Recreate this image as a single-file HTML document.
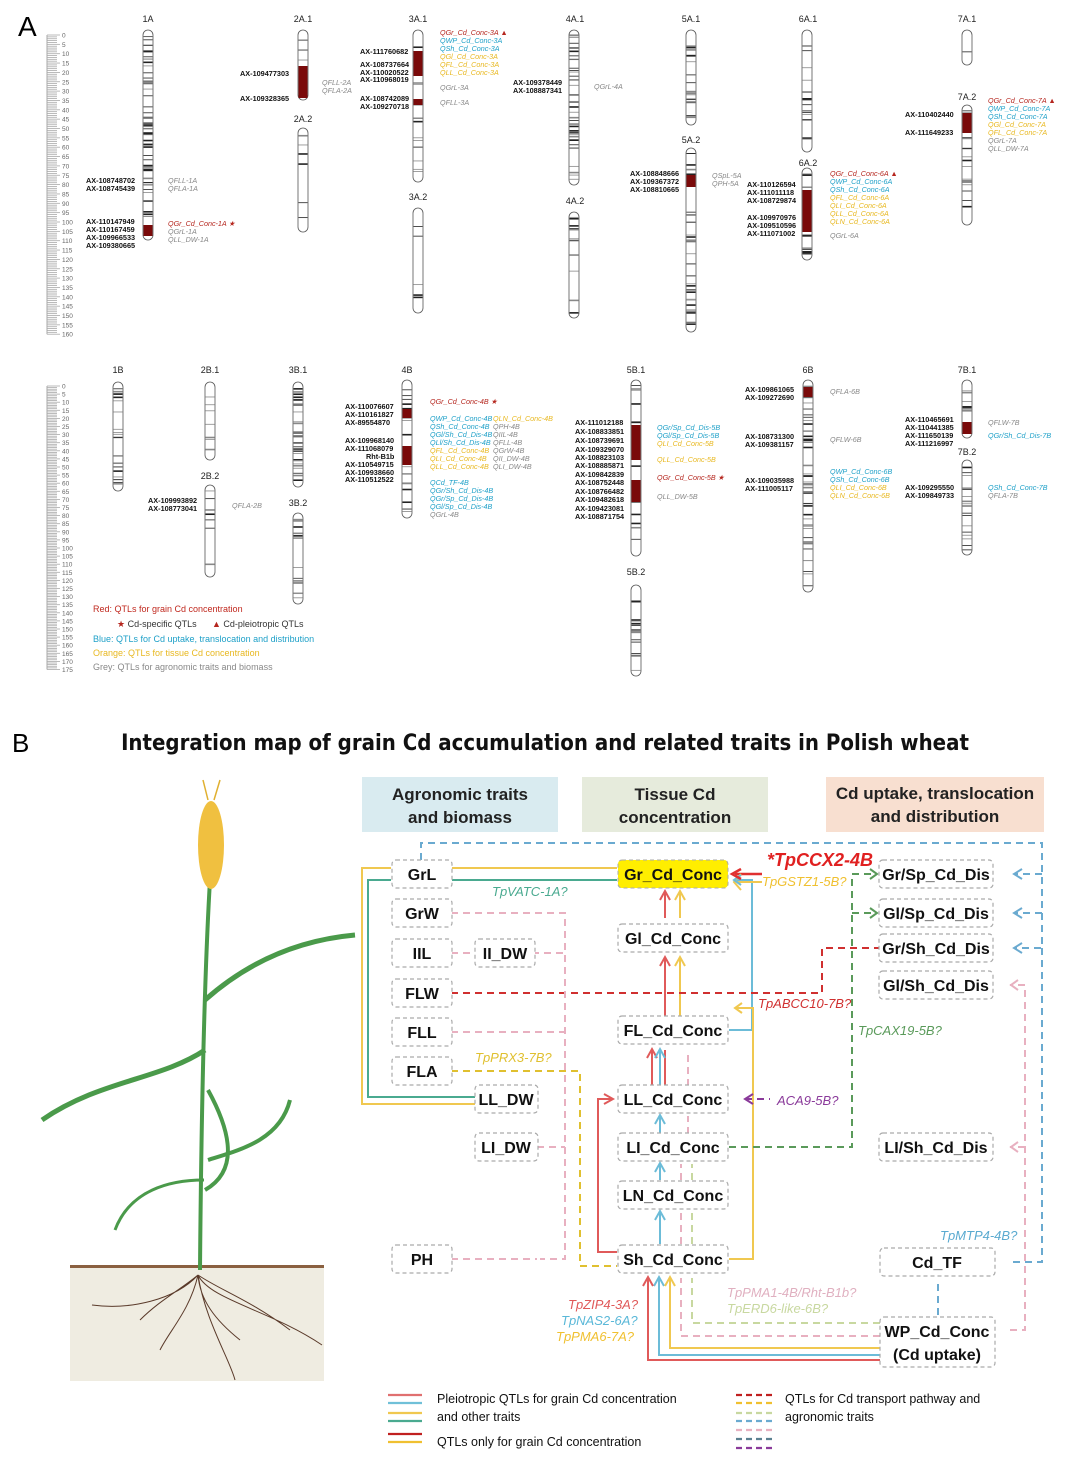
<!DOCTYPE html>
<html><head><meta charset="utf-8">
<style>
html,body{margin:0;padding:0;background:#fff;}
svg{display:block;font-family:"Liberation Sans",sans-serif;}
.m{font-size:7.3px;font-weight:bold;fill:#111;}
.q{font-size:7.2px;font-style:italic;}
.cn{font-size:9px;fill:#222;text-anchor:middle;}
.nd{fill:#fff;stroke:#aaa;stroke-dasharray:4 3;stroke-width:1.2;}
.nt{font-size:16px;font-weight:bold;fill:#111;text-anchor:middle;font-family:"Liberation Sans",sans-serif;}
.g{font-size:13px;font-style:italic;font-family:"Liberation Sans",sans-serif;}
.hd{font-size:17px;font-weight:bold;fill:#222;text-anchor:middle;font-family:"Liberation Sans",sans-serif;}
.lg{font-size:12.5px;fill:#111;font-family:"Liberation Sans",sans-serif;}
</style></head><body>
<svg id="s" width="1080" height="1463" viewBox="0 0 1080 1463" xmlns="http://www.w3.org/2000/svg">
<text x="18" y="36" font-size="28" fill="#000">A</text>
<text x="12" y="752" font-size="26" fill="#000">B</text>
<g id="rul"></g>
<g id="chr"></g>
<g id="lab">
<text class="cn" x="148" y="22">1A</text><text class="cn" x="303" y="22">2A.1</text><text class="cn" x="303" y="122">2A.2</text>
<text class="cn" x="418" y="22">3A.1</text><text class="cn" x="418" y="200">3A.2</text>
<text class="cn" x="575" y="22">4A.1</text><text class="cn" x="575" y="204">4A.2</text>
<text class="cn" x="691" y="22">5A.1</text><text class="cn" x="691" y="143">5A.2</text>
<text class="cn" x="808" y="22">6A.1</text><text class="cn" x="808" y="166">6A.2</text>
<text class="cn" x="967" y="22">7A.1</text><text class="cn" x="967" y="100">7A.2</text>
<text class="cn" x="118" y="373">1B</text><text class="cn" x="210" y="373">2B.1</text><text class="cn" x="210" y="479">2B.2</text>
<text class="cn" x="298" y="373">3B.1</text><text class="cn" x="298" y="506">3B.2</text><text class="cn" x="407" y="373">4B</text>
<text class="cn" x="636" y="373">5B.1</text><text class="cn" x="636" y="575">5B.2</text><text class="cn" x="808" y="373">6B</text>
<text class="cn" x="967" y="373">7B.1</text><text class="cn" x="967" y="455">7B.2</text>
<g class="m">
<text x="86" y="183">AX-108748702</text><text x="86" y="191">AX-108745439</text>
<text x="86" y="224">AX-110147949</text><text x="86" y="232">AX-110167459</text><text x="86" y="240">AX-109966533</text><text x="86" y="248">AX-109380665</text>
<text x="240" y="76">AX-109477303</text><text x="240" y="101">AX-109328365</text>
<text x="360" y="54">AX-111760682</text><text x="360" y="67">AX-108737664</text><text x="360" y="75">AX-110020522</text><text x="360" y="82">AX-110968019</text>
<text x="360" y="101">AX-108742089</text><text x="360" y="109">AX-109270718</text>
<text x="513" y="85">AX-109378449</text><text x="513" y="93">AX-108887341</text>
<text x="630" y="176">AX-108848666</text><text x="630" y="184">AX-109367372</text><text x="630" y="192">AX-108810665</text>
<text x="747" y="187">AX-110126594</text><text x="747" y="195">AX-111011118</text><text x="747" y="203">AX-108729874</text>
<text x="747" y="220">AX-109970976</text><text x="747" y="228">AX-109510596</text><text x="747" y="236">AX-111071002</text>
<text x="905" y="117">AX-110402440</text><text x="905" y="135">AX-111649233</text>
<text x="148" y="503">AX-109993892</text><text x="148" y="511">AX-108773041</text>
<text x="345" y="409">AX-110076607</text><text x="345" y="417">AX-110161827</text><text x="345" y="425">AX-89554870</text>
<text x="345" y="443">AX-109968140</text><text x="345" y="451">AX-111068079</text><text x="366" y="459">Rht-B1b</text><text x="345" y="467">AX-110549715</text><text x="345" y="475">AX-109938660</text><text x="345" y="482">AX-110512522</text>
<text x="575" y="425">AX-111012188</text><text x="575" y="434">AX-108833851</text><text x="575" y="443">AX-108739691</text><text x="575" y="452">AX-109329070</text><text x="575" y="460">AX-108823103</text><text x="575" y="468">AX-108885871</text><text x="575" y="477">AX-109842839</text><text x="575" y="485">AX-108752448</text><text x="575" y="494">AX-108766482</text><text x="575" y="502">AX-109482618</text><text x="575" y="511">AX-109423081</text><text x="575" y="519">AX-108871754</text>
<text x="745" y="392">AX-109861065</text><text x="745" y="400">AX-109272690</text>
<text x="745" y="439">AX-108731300</text><text x="745" y="447">AX-109381157</text>
<text x="745" y="483">AX-109035988</text><text x="745" y="491">AX-111005117</text>
<text x="905" y="422">AX-110465691</text><text x="905" y="430">AX-110441385</text><text x="905" y="438">AX-111650139</text><text x="905" y="446">AX-111216997</text>
<text x="905" y="490">AX-109295550</text><text x="905" y="498">AX-109849733</text>
</g>
<g class="q">
<text x="168" y="183" fill="#888">QFLL-1A</text><text x="168" y="191" fill="#888">QFLA-1A</text>
<text x="168" y="226" fill="#b5261e">QGr_Cd_Conc-1A ★</text><text x="168" y="234" fill="#888">QGrL-1A</text><text x="168" y="242" fill="#888">QLL_DW-1A</text>
<text x="322" y="85" fill="#888">QFLL-2A</text><text x="322" y="93" fill="#888">QFLA-2A</text>
<text x="440" y="35" fill="#b5261e">QGr_Cd_Conc-3A ▲</text><text x="440" y="43" fill="#1ea0c8">QWP_Cd_Conc-3A</text><text x="440" y="51" fill="#1ea0c8">QSh_Cd_Conc-3A</text><text x="440" y="59" fill="#e8b820">QGl_Cd_Conc-3A</text><text x="440" y="67" fill="#e8b820">QFL_Cd_Conc-3A</text><text x="440" y="75" fill="#e8b820">QLL_Cd_Conc-3A</text>
<text x="440" y="90" fill="#888">QGrL-3A</text><text x="440" y="105" fill="#888">QFLL-3A</text>
<text x="594" y="89" fill="#888">QGrL-4A</text>
<text x="712" y="178" fill="#888">QSpL-5A</text><text x="712" y="186" fill="#888">QPH-5A</text>
<text x="830" y="176" fill="#b5261e">QGr_Cd_Conc-6A ▲</text><text x="830" y="184" fill="#1ea0c8">QWP_Cd_Conc-6A</text><text x="830" y="192" fill="#1ea0c8">QSh_Cd_Conc-6A</text><text x="830" y="200" fill="#e8b820">QFL_Cd_Conc-6A</text><text x="830" y="208" fill="#e8b820">QLI_Cd_Conc-6A</text><text x="830" y="216" fill="#e8b820">QLL_Cd_Conc-6A</text><text x="830" y="224" fill="#e8b820">QLN_Cd_Conc-6A</text><text x="830" y="238" fill="#888">QGrL-6A</text>
<text x="988" y="103" fill="#b5261e">QGr_Cd_Conc-7A ▲</text><text x="988" y="111" fill="#1ea0c8">QWP_Cd_Conc-7A</text><text x="988" y="119" fill="#1ea0c8">QSh_Cd_Conc-7A</text><text x="988" y="127" fill="#e8b820">QGl_Cd_Conc-7A</text><text x="988" y="135" fill="#e8b820">QFL_Cd_Conc-7A</text><text x="988" y="143" fill="#888">QGrL-7A</text><text x="988" y="151" fill="#888">QLL_DW-7A</text>
<text x="232" y="508" fill="#888">QFLA-2B</text>
<text x="430" y="404" fill="#b5261e">QGr_Cd_Conc-4B ★</text>
<text x="430" y="421" fill="#1ea0c8">QWP_Cd_Conc-4B</text><text x="430" y="429" fill="#1ea0c8">QSh_Cd_Conc-4B</text><text x="430" y="437" fill="#1ea0c8">QGl/Sh_Cd_Dis-4B</text><text x="430" y="445" fill="#1ea0c8">QLl/Sh_Cd_Dis-4B</text><text x="430" y="453" fill="#e8b820">QFL_Cd_Conc-4B</text><text x="430" y="461" fill="#e8b820">QLI_Cd_Conc-4B</text><text x="430" y="469" fill="#e8b820">QLL_Cd_Conc-4B</text>
<text x="493" y="421" fill="#e8b820">QLN_Cd_Conc-4B</text><text x="493" y="429" fill="#888">QPH-4B</text><text x="493" y="437" fill="#888">QIIL-4B</text><text x="493" y="445" fill="#888">QFLL-4B</text><text x="493" y="453" fill="#888">QGrW-4B</text><text x="493" y="461" fill="#888">QII_DW-4B</text><text x="493" y="469" fill="#888">QLI_DW-4B</text>
<text x="430" y="485" fill="#1ea0c8">QCd_TF-4B</text><text x="430" y="493" fill="#1ea0c8">QGr/Sh_Cd_Dis-4B</text><text x="430" y="501" fill="#1ea0c8">QGr/Sp_Cd_Dis-4B</text><text x="430" y="509" fill="#1ea0c8">QGl/Sp_Cd_Dis-4B</text><text x="430" y="517" fill="#888">QGrL-4B</text>
<text x="657" y="430" fill="#1ea0c8">QGr/Sp_Cd_Dis-5B</text><text x="657" y="438" fill="#1ea0c8">QGl/Sp_Cd_Dis-5B</text><text x="657" y="446" fill="#e8b820">QLI_Cd_Conc-5B</text><text x="657" y="462" fill="#e8b820">QLL_Cd_Conc-5B</text><text x="657" y="480" fill="#b5261e">QGr_Cd_Conc-5B ★</text><text x="657" y="499" fill="#888">QLL_DW-5B</text>
<text x="830" y="394" fill="#888">QFLA-6B</text><text x="830" y="442" fill="#888">QFLW-6B</text>
<text x="830" y="474" fill="#1ea0c8">QWP_Cd_Conc-6B</text><text x="830" y="482" fill="#1ea0c8">QSh_Cd_Conc-6B</text><text x="830" y="490" fill="#e8b820">QLI_Cd_Conc-6B</text><text x="830" y="498" fill="#e8b820">QLN_Cd_Conc-6B</text>
<text x="988" y="425" fill="#888">QFLW-7B</text><text x="988" y="438" fill="#1ea0c8">QGr/Sh_Cd_Dis-7B</text>
<text x="988" y="490" fill="#1ea0c8">QSh_Cd_Conc-7B</text><text x="988" y="498" fill="#888">QFLA-7B</text>
</g>
<g font-size="9">
<text x="93" y="612" fill="#c0281e">Red: QTLs for grain Cd concentration</text>
<text x="117" y="627" fill="#333"><tspan fill="#b5261e">★</tspan> Cd-specific QTLs</text>
<text x="212" y="627" fill="#333"><tspan fill="#b5261e">▲</tspan> Cd-pleiotropic QTLs</text>
<text x="93" y="642" fill="#1ea0c8">Blue: QTLs for Cd uptake, translocation and distribution</text>
<text x="93" y="656" fill="#e8b820">Orange: QTLs for tissue Cd concentration</text>
<text x="93" y="670" fill="#888">Grey: QTLs for agronomic traits and biomass</text>
</g>
</g>

<text x="545" y="750" text-anchor="middle" font-size="22" font-weight="bold" fill="#111" font-family="DejaVu Sans Condensed, Liberation Sans, sans-serif">Integration map of grain Cd accumulation and related traits in Polish wheat</text>
<rect x="362" y="777" width="196" height="55" fill="#d9ebf0"/>
<rect x="582" y="777" width="186" height="55" fill="#e6ebdc"/>
<rect x="826" y="777" width="218" height="55" fill="#f8dfd0"/>
<text class="hd" x="460" y="800">Agronomic traits</text><text class="hd" x="460" y="823">and biomass</text>
<text class="hd" x="675" y="800">Tissue Cd</text><text class="hd" x="675" y="823">concentration</text>
<text class="hd" x="935" y="799">Cd uptake, translocation</text><text class="hd" x="935" y="822">and distribution</text>

<g fill="none" stroke-width="2">
<path d="M391 868 H362 V1104 H476" stroke="#f0c850"/>
<path d="M391 880 H368 V1097 H476" stroke="#4aaa90"/>
<path d="M451 868 H617" stroke="#f0c850"/>
<path d="M451 880 H617" stroke="#4aaa90"/>
<path d="M729 1030 H752 V880 H735" stroke="#6cbcd8"/>
<path d="M729 1259 H753 V1008 H735" stroke="#f0c850"/>
<path d="M665 918 V892 M665 1018 V958" stroke="#e05a5a"/>
<path d="M680 918 V892 M680 1018 V958" stroke="#f0c850"/>
<path d="M652 1086 V1050 M665 1086 V1050" stroke="#e05a5a"/>
<path d="M660 1086 V1050" stroke="#6cbcd8"/>
<path d="M660 1134 V1116 M660 1180 V1164 M660 1244 V1212" stroke="#6cbcd8"/>
<path d="M617 1252 H598 V1099 H612" stroke="#e05a5a"/>
<path d="M880 1360 H648 V1278" stroke="#e05a5a"/>
<path d="M880 1355 H659 V1278" stroke="#6cbcd8"/>
<path d="M880 1348 H670 V1278" stroke="#f0c850"/>
<path d="M762 874 H735" stroke="#e03030" stroke-width="2.5"/>
<path d="M762 882 H737" stroke="#f0c850"/>
</g>
<g fill="none" stroke-width="2" stroke-dasharray="7 5">
<path d="M421 860 V843 H1042 V948 H1014 M1042 874 H1014 M1042 913 H1014 M1042 948 V1262 H1010" stroke="#6aaad0"/>
<path d="M938 1315 V1280" stroke="#6aaad0"/>
<path d="M451 993 H822 V948 H880" stroke="#d03030"/>
<path d="M729 1147 H852 V874 H875 M852 913 H875" stroke="#5a9a5a"/>
<path d="M451 913 H565 V1259 H540 M451 1032 H565 M532 953 H565 M537 1147 H565 M451 1259 H537" stroke="#e8b0c0"/>
<path d="M451 953 H474" stroke="#e8b0c0"/>
<path d="M1010 1330 H1025 V985 H1010 M1025 1147 H1010" stroke="#e8b0c0"/>
<path d="M451 1071 H580 V1266 H617" stroke="#e0c030"/>
<path d="M745 1099 H770" stroke="#8a3a9a"/>
<path d="M880 1336 H681 V1278 M688 1086 V1050 M688 1134 V1116 M681 1180 V1164 M681 1244 V1212" stroke="#e8b0c0"/>
<path d="M880 1323 H692 V1278 M692 1180 V1164 M692 1244 V1212" stroke="#c8d8a0"/>
</g>
<g fill="none" stroke-width="2">
<path d="M660 900 L665 891 L670 900 M660 966 L665 957 L670 966" stroke="#e05a5a"/>
<path d="M675 900 L680 891 L685 900 M675 966 L680 957 L685 966" stroke="#f0c850"/>
<path d="M647 1058 L652 1049 L657 1058" stroke="#e05a5a"/>
<path d="M655 1058 L660 1049 L665 1058 M655 1124 L660 1115 L665 1124 M655 1172 L660 1163 L665 1172 M655 1220 L660 1211 L665 1220 M654 1286 L659 1277 L664 1286" stroke="#6cbcd8"/>
<path d="M643 1286 L648 1277 L653 1286 M604 1094 L613 1099 L604 1104" stroke="#e05a5a"/>
<path d="M665 1286 L670 1277 L675 1286 M741 874 L734 882 L741 890 M742 1003 L735 1008 L742 1013" stroke="#f0c850"/>
<path d="M741 875 L734 880 L741 885" stroke="#6cbcd8"/>
<path d="M741 869 L732 874 L741 879" stroke="#e03030" stroke-width="2.5"/>
<path d="M870 869 L877 874 L870 879 M870 908 L877 913 L870 918" stroke="#5a9a5a"/>
<path d="M753 1094 L745 1099 L753 1104" stroke="#8a3a9a"/>
<path d="M1022 869 L1014 874 L1022 879 M1022 908 L1014 913 L1022 918 M1022 943 L1014 948 L1022 953" stroke="#6aaad0"/>
<path d="M1018 980 L1011 985 L1018 990 M1018 1142 L1011 1147 L1018 1152" stroke="#e8b0c0"/>
</g>
<g>
<rect class="nd" x="392" y="860" width="60" height="28" rx="4"/><text class="nt" x="422" y="880">GrL</text>
<rect class="nd" x="392" y="899" width="60" height="28" rx="4"/><text class="nt" x="422" y="919">GrW</text>
<rect class="nd" x="392" y="939" width="60" height="28" rx="4"/><text class="nt" x="422" y="959">IIL</text>
<rect class="nd" x="475" y="939" width="60" height="28" rx="4"/><text class="nt" x="505" y="959">II_DW</text>
<rect class="nd" x="392" y="979" width="60" height="28" rx="4"/><text class="nt" x="422" y="999">FLW</text>
<rect class="nd" x="392" y="1018" width="60" height="28" rx="4"/><text class="nt" x="422" y="1038">FLL</text>
<rect class="nd" x="392" y="1057" width="60" height="28" rx="4"/><text class="nt" x="422" y="1077">FLA</text>
<rect class="nd" x="475" y="1085" width="63" height="28" rx="4"/><text class="nt" x="506" y="1105">LL_DW</text>
<rect class="nd" x="475" y="1133" width="63" height="28" rx="4"/><text class="nt" x="506" y="1153">LI_DW</text>
<rect class="nd" x="392" y="1245" width="60" height="28" rx="4"/><text class="nt" x="422" y="1265">PH</text>
<rect x="618" y="860" width="110" height="28" rx="4" fill="#ffee00" stroke="#aaa" stroke-dasharray="4 3"/><text class="nt" x="673" y="880">Gr_Cd_Conc</text>
<rect class="nd" x="618" y="924" width="110" height="28" rx="4"/><text class="nt" x="673" y="944">Gl_Cd_Conc</text>
<rect class="nd" x="618" y="1016" width="110" height="28" rx="4"/><text class="nt" x="673" y="1036">FL_Cd_Conc</text>
<rect class="nd" x="618" y="1085" width="110" height="28" rx="4"/><text class="nt" x="673" y="1105">LL_Cd_Conc</text>
<rect class="nd" x="618" y="1133" width="110" height="28" rx="4"/><text class="nt" x="673" y="1153">LI_Cd_Conc</text>
<rect class="nd" x="618" y="1181" width="110" height="28" rx="4"/><text class="nt" x="673" y="1201">LN_Cd_Conc</text>
<rect class="nd" x="618" y="1245" width="110" height="28" rx="4"/><text class="nt" x="673" y="1265">Sh_Cd_Conc</text>
<rect class="nd" x="879" y="860" width="114" height="28" rx="4"/><text class="nt" x="936" y="880">Gr/Sp_Cd_Dis</text>
<rect class="nd" x="879" y="899" width="114" height="28" rx="4"/><text class="nt" x="936" y="919">Gl/Sp_Cd_Dis</text>
<rect class="nd" x="879" y="934" width="114" height="28" rx="4"/><text class="nt" x="936" y="954">Gr/Sh_Cd_Dis</text>
<rect class="nd" x="879" y="971" width="114" height="28" rx="4"/><text class="nt" x="936" y="991">Gl/Sh_Cd_Dis</text>
<rect class="nd" x="879" y="1133" width="114" height="28" rx="4"/><text class="nt" x="936" y="1153">LI/Sh_Cd_Dis</text>
<rect class="nd" x="880" y="1248" width="115" height="28" rx="4"/><text class="nt" x="937" y="1268">Cd_TF</text>
<rect class="nd" x="880" y="1317" width="115" height="50" rx="4"/><text class="nt" x="937" y="1337">WP_Cd_Conc</text><text class="nt" x="937" y="1360">(Cd uptake)</text>
</g>
<g class="g">
<text x="767" y="866" font-size="18" font-weight="bold" fill="#e02020">*TpCCX2-4B</text>
<text x="762" y="886" fill="#f0c030">TpGSTZ1-5B?</text>
<text x="492" y="896" fill="#4aaa90">TpVATC-1A?</text>
<text x="758" y="1008" fill="#d03030">TpABCC10-7B?</text>
<text x="858" y="1035" fill="#5a9a5a">TpCAX19-5B?</text>
<text x="475" y="1062" fill="#e0c030">TpPRX3-7B?</text>
<text x="777" y="1105" fill="#8a3a9a">ACA9-5B?</text>
<text x="940" y="1240" fill="#5aaad0">TpMTP4-4B?</text>
<text x="727" y="1297" fill="#e0b0c0">TpPMA1-4B/Rht-B1b?</text>
<text x="727" y="1313" fill="#c8d8a0">TpERD6-like-6B?</text>
<text x="568" y="1309" fill="#e05a5a">TpZIP4-3A?</text>
<text x="561" y="1325" fill="#5ab8d8">TpNAS2-6A?</text>
<text x="556" y="1341" fill="#f0c030">TpPMA6-7A?</text>
</g>
<g stroke-width="2.2">
<line x1="388" y1="1395" x2="422" y2="1395" stroke="#e07070"/>
<line x1="388" y1="1403" x2="422" y2="1403" stroke="#70c0d8"/>
<line x1="388" y1="1413" x2="422" y2="1413" stroke="#f0c850"/>
<line x1="388" y1="1421" x2="422" y2="1421" stroke="#4aaa90"/>
<line x1="388" y1="1434" x2="422" y2="1434" stroke="#c02020"/>
<line x1="388" y1="1442" x2="422" y2="1442" stroke="#f0c030"/>
<g stroke-dasharray="6 4">
<line x1="736" y1="1395" x2="772" y2="1395" stroke="#c02020"/>
<line x1="736" y1="1403" x2="772" y2="1403" stroke="#f0c030"/>
<line x1="736" y1="1413" x2="772" y2="1413" stroke="#c8d8a0"/>
<line x1="736" y1="1421" x2="772" y2="1421" stroke="#6aaad0"/>
<line x1="736" y1="1430" x2="772" y2="1430" stroke="#e8b0c0"/>
<line x1="736" y1="1439" x2="772" y2="1439" stroke="#5a8090"/>
<line x1="736" y1="1448" x2="772" y2="1448" stroke="#8a3a9a"/>
</g></g>
<text class="lg" x="437" y="1403">Pleiotropic QTLs for grain Cd concentration</text>
<text class="lg" x="437" y="1421">and other traits</text>
<text class="lg" x="437" y="1446">QTLs only  for grain Cd concentration</text>
<text class="lg" x="785" y="1403">QTLs for Cd transport pathway and</text>
<text class="lg" x="785" y="1421">agronomic traits</text>

<rect x="70" y="1267" width="254" height="114" fill="#efece1"/>
<rect x="70" y="1265" width="254" height="3" fill="#8a6040"/>
<g fill="none" stroke="#5a3a2a" stroke-width="1">
<path d="M198 1275 C180 1290 160 1300 140 1320 M198 1275 C200 1300 215 1320 240 1340 M198 1275 C190 1310 170 1330 160 1350 M198 1275 C220 1290 250 1300 290 1330 M198 1275 C205 1320 230 1360 235 1380 M198 1275 C175 1300 130 1310 92 1305 M198 1275 C210 1300 270 1310 322 1345"/>
</g>
<g fill="none" stroke="#4a9a4a">
<path d="M200 1270 C201 1150 203 1000 210 880" stroke-width="4"/>
<path d="M205 1050 C160 1080 100 1080 42 1120" stroke-width="5"/>
<path d="M205 1000 C250 960 300 940 355 935" stroke-width="5"/>
<path d="M208 1090 C230 1130 240 1170 205 1190" stroke-width="4"/>
<path d="M204 1180 C170 1180 130 1190 115 1230" stroke-width="3"/>
<path d="M208 1160 C240 1150 280 1140 290 1100" stroke-width="4"/>
</g>
<ellipse cx="211" cy="845" rx="13" ry="44" fill="#f0c040"/>
<path d="M208 800 L203 780 M214 800 L220 780" stroke="#e0b030" stroke-width="1.5"/>
</svg>
<script>
var NS="http://www.w3.org/2000/svg";
function el(p,t,a,tx){var e=document.createElementNS(NS,t);for(var k in a)e.setAttribute(k,a[k]);if(tx!=null)e.textContent=tx;p.appendChild(e);return e;}
var rul=document.getElementById("rul");
function ruler(y0,max,scale){for(var i=0;i<=max;i++){var y=y0+i*scale;el(rul,"line",{x1:47,x2:(i%5==0?60:57),y1:y,y2:y,stroke:"#aaa","stroke-width":0.8});if(i%5==0)el(rul,"text",{x:62,y:y+2.5,"font-size":6.5,fill:"#666"},String(i));}
el(rul,"line",{x1:47,x2:47,y1:y0,y2:y0+max*scale,stroke:"#aaa"});}
ruler(35,160,1.87);ruler(386,175,1.62);
var ch=document.getElementById("chr");
var seed=7;function r(){seed=(seed*9301+49297)%233280;return seed/233280;}
function C(x,y1,y2,reds,dense){var w=10;el(ch,"rect",{x:x,y:y1,width:w,height:y2-y1,rx:5,fill:"#fff",stroke:"#555","stroke-width":0.8});
var n=Math.floor((y2-y1)*(dense||0.25));for(var i=0;i<n;i++){var y=y1+5+r()*(y2-y1-10);el(ch,"line",{x1:x+0.5,x2:x+w-0.5,y1:y,y2:y,stroke:r()<0.5?"#222":"#888","stroke-width":r()<0.3?1.6:0.8});}
(reds||[]).forEach(function(b){el(ch,"rect",{x:x+0.5,y:b[0],width:w-1,height:b[1]-b[0],fill:"#7a0a0a"});});}
C(143,30,240,[[225,236]],0.35);C(298,30,100,[[66,98]],0.05);C(298,128,232,[],0.06);
C(413,30,182,[[51,76],[99,105]],0.1);C(413,208,313,[],0.05);
C(569,30,185,[],0.3);C(569,212,318,[],0.12);
C(686,30,125,[],0.2);C(686,148,332,[[175,187]],0.2);
C(802,30,152,[],0.15);C(802,168,260,[[190,232]],0.2);
C(962,30,65,[],0.05);C(962,105,225,[[113,133]],0.15);
C(113,382,491,[],0.2);C(205,382,460,[],0.1);C(205,485,577,[],0.08);
C(293,382,487,[],0.4);C(293,513,604,[],0.2);C(402,380,518,[[409,418],[446,465]],0.15);
C(631,380,556,[[425,460],[480,502]],0.15);C(631,585,676,[],0.2);
C(803,380,592,[[387,397]],0.25);C(962,380,438,[[422,434]],0.15);C(962,460,555,[],0.2);
</script>
</body></html>
